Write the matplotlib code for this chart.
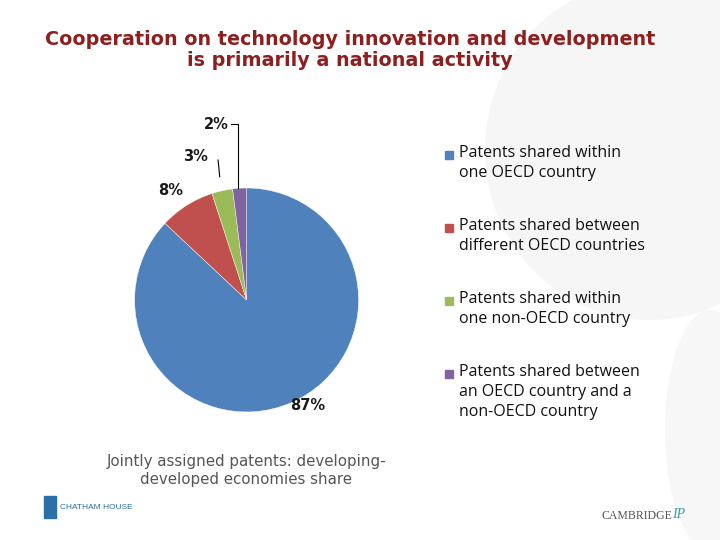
import numpy as np
import matplotlib
matplotlib.use("Agg")
import matplotlib.pyplot as plt
from matplotlib.patches import Ellipse, Rectangle

# data
categories = [
    "Patents shared within\none OECD country",
    "Patents shared between\ndifferent OECD countries",
    "Patents shared within\none non-OECD country",
    "Patents shared between\nan OECD country and a\nnon-OECD country",
]
shares = [87, 8, 3, 2]
colors = ["#4F81BD", "#C0504D", "#9BBB59", "#8064A2"]

title = "Cooperation on technology innovation and development\nis primarily a national activity"
caption = "Jointly assigned patents: developing-\ndeveloped economies share"

plt.rcParams["font.family"] = ["Liberation Sans", "DejaVu Sans"]

fig = plt.figure(figsize=(7.2, 5.4), dpi=100)
fig.patch.set_facecolor("white")

# faint watermark shapes in the background
bg = fig.add_axes([0, 0, 1, 1], zorder=-10)
bg.set_xlim(0, 720)
bg.set_ylim(540, 0)
bg.axis("off")
bg.add_patch(Ellipse((650, 150), 330, 340, color="#f6f6f6", lw=0))
bg.add_patch(Ellipse((710, 430), 90, 240, color="#f7f7f7", lw=0))

fig.text(0.486, 0.944, title, ha="center", va="top", fontsize=13.8,
         fontweight="bold", family=["DejaVu Sans"], color="#8E1F1F",
         linespacing=1.15)

# pie
ax = fig.add_axes([0.187, 0.237, 0.311, 0.415])
wedges, _ = ax.pie(shares, colors=colors, startangle=90, counterclock=False,
                   radius=1.0, wedgeprops=dict(edgecolor="white", linewidth=0.3))
ax.set_xlim(-1, 1)
ax.set_ylim(-1, 1)
ax.set_aspect("equal")

lbl_kw = dict(fontsize=10.5, fontweight="bold", family=["DejaVu Sans"], color="#1a1a1a")
ax.text(0.55, -0.94, f"{shares[0]}%", ha="center", va="center", **lbl_kw)
ax.text(-0.68, 0.98, f"{shares[1]}%", ha="center", va="center", **lbl_kw)
ax.text(-0.46, 1.28, f"{shares[2]}%", ha="center", va="center", **lbl_kw)
ax.text(-0.27, 1.57, f"{shares[3]}%", ha="center", va="center", **lbl_kw)

# leader lines
ax.plot([-0.255, -0.24], [1.25, 1.10], color="black", lw=0.8, clip_on=False)
ax.plot([-0.14, -0.08, -0.08], [1.57, 1.57, 1.0], color="black", lw=0.8, clip_on=False)

# legend drawn by hand so the swatch sits on the first line
tops = [0.718, 0.583, 0.448, 0.313]
for lab, col, y in zip(categories, colors, tops):
    fig.patches.append(Rectangle((0.618, y - 0.013), 0.0115, 0.0155, color=col,
                                 transform=fig.transFigure, figure=fig))
    fig.text(0.638, y + 0.013, lab, ha="left", va="top", fontsize=11.5,
             family=["Open Sans", "DejaVu Sans"], color="#111111", linespacing=1.32)

fig.text(0.342, 0.129, caption, ha="center", va="center", fontsize=10.8,
         family=["DejaVu Sans"], color="#555555", linespacing=1.25)

# logos as text
fig.patches.append(Rectangle((0.061, 0.04), 0.017, 0.042, color="#2a6fa8",
                             transform=fig.transFigure, figure=fig))
fig.text(0.083, 0.061, "CHATHAM HOUSE", ha="left", va="center", fontsize=6,
         color="#2a6fa8")
fig.text(0.885, 0.045, "CAMBRIDGE", ha="center", va="center", fontsize=8.5,
         family=["Liberation Serif"], color="#555555")
fig.text(0.943, 0.047, "IP", ha="center", va="center", fontsize=10,
         style="italic", family=["Liberation Serif"], color="#3a9aa8")

fig.savefig("out.png", dpi=100, facecolor="white")
